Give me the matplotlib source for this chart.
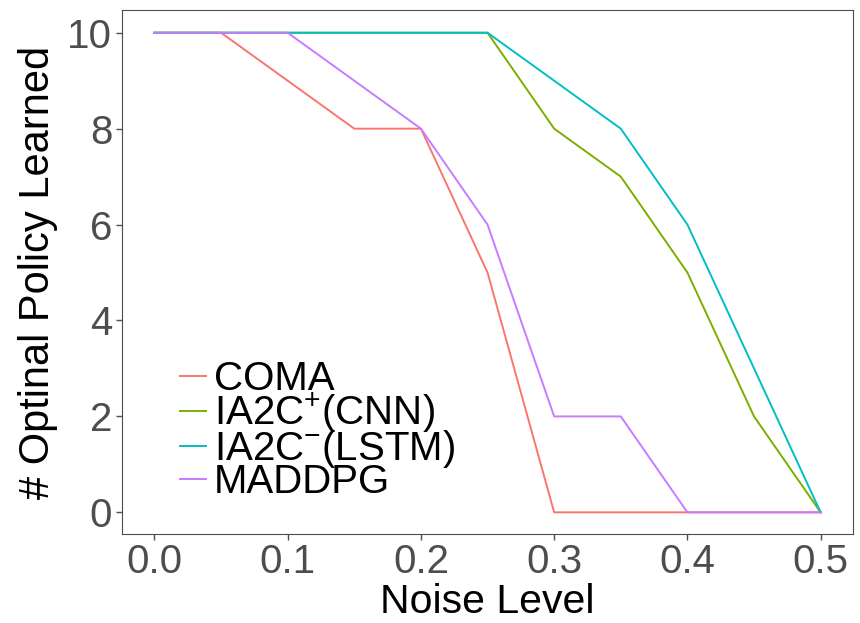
import matplotlib
matplotlib.use("Agg")
import matplotlib.pyplot as plt

plt.rcParams['font.family'] = ['Liberation Sans', 'DejaVu Sans']
plt.rcParams['mathtext.fontset'] = 'custom'
plt.rcParams['mathtext.rm'] = 'Liberation Sans'

noise = [0.0, 0.05, 0.1, 0.15, 0.2, 0.25, 0.3, 0.35, 0.4, 0.45, 0.5]
coma = [10, 10, 9, 8, 8, 5, 0, 0, 0, 0, 0]
ia2c_cnn = [10, 10, 10, 10, 10, 10, 8, 7, 5, 2, 0]
ia2c_lstm = [10, 10, 10, 10, 10, 10, 9, 8, 6, 3, 0]
maddpg = [10, 10, 10, 9, 8, 6, 2, 2, 0, 0, 0]

labels = ['COMA', 'IA2C$^{+}$(CNN)', 'IA2C$^{-}$(LSTM)', 'MADDPG']
colors = ['#F8766D', '#7CAE00', '#00BFC4', '#C77CFF']

fig = plt.figure(figsize=(8.6, 6.23), dpi=100)
ax = fig.add_axes([0.1419, 0.1433, 0.8503, 0.8401])

for ys, lab, c in zip([coma, ia2c_cnn, ia2c_lstm, maddpg], labels, colors):
    ax.plot(noise, ys, color=c, lw=1.4, label=lab)

ax.set_xlim(-0.0243, 0.5245)
ax.set_ylim(-0.446, 10.467)
ax.set_xticks([0.0, 0.1, 0.2, 0.3, 0.4, 0.5])
ax.set_xticklabels(['0.0', '0.1', '0.2', '0.3', '0.4', '0.5'])
ax.set_yticks([0, 2, 4, 6, 8, 10])
ax.tick_params(labelsize=29, colors='#4D4D4D', length=4, width=1, pad=3)
for s in ax.spines.values():
    s.set_color('#4D4D4D')
    s.set_linewidth(0.8)

ax.set_xlabel('Noise Level', fontsize=29.5, labelpad=1)
ax.set_ylabel('# Optinal Policy Learned', fontsize=30, labelpad=7)

leg = ax.legend(loc='center left', bbox_to_anchor=(0.079, 0.197), fontsize=29,
                frameon=False, handlelength=0.65, handletextpad=0.2,
                labelspacing=-0.17, borderaxespad=0, borderpad=0)

fig.savefig('out.png', dpi=100)
